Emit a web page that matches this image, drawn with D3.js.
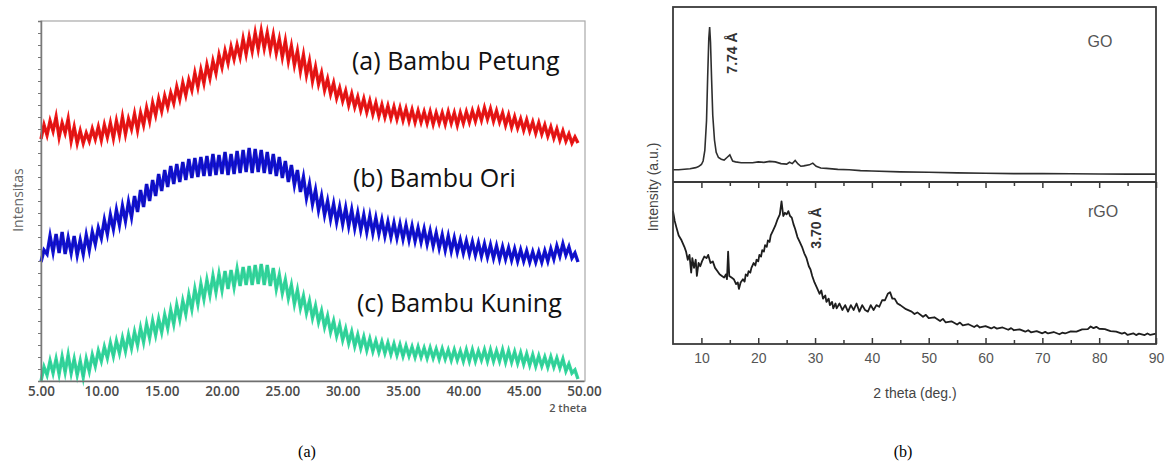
<!DOCTYPE html>
<html>
<head>
<meta charset="utf-8">
<script src="https://cdn.jsdelivr.net/npm/d3@7"></script>
<style>
  body { margin: 0; background: #fff; }
</style>
</head>
<body>
<svg id="container" width="1168" height="463"></svg>
<script>
// ---- left chart: bamboo XRD, sampled every 0.25 deg from 5.00 ----
const thetaStart = 5;
const thetaStep = 0.25;
const bambooTicks = [5, 10, 15, 20, 25, 30, 35, 40, 45, 50];

const petung = [4,18,8,22,12,26,6,20,10,24,2,16,0,12,0,10,2,14,4,16,3,18,6,20,5,22,8,26,9,24,
  14,29,13,30,18,35,22,40,28,44,32,47,36,50,40,56,44,60,48,63,53,70,56,73,60,78,65,82,70,88,
  76,92,80,96,84,98,86,104,89,106,92,110,94,112,95,110,93,108,90,104,86,102,82,97,78,92,72,88,68,82,
  62,76,59,70,53,64,49,60,45,55,42,52,38,49,36,46,33,44,31,42,29,40,27,38,26,37,25,36,24,35,
  23,34,22,33,21,32,21,31,20,31,19,30,20,30,19,31,20,30,18,30,20,31,21,32,22,33,23,35,24,34,
  22,32,21,30,18,28,16,26,15,24,13,23,12,21,10,20,9,18,7,16,5,14,3,12,2,9,0,6,0];

const ori = [0,12,8,26,10,28,9,30,8,24,9,26,7,22,8,27,12,30,18,34,24,42,28,47,33,52,37,56,41,60,
  45,66,50,72,55,78,61,82,66,88,71,92,75,96,78,98,80,100,82,103,84,104,85,105,86,106,86,108,87,107,
  88,110,87,108,88,111,89,112,90,114,89,113,90,112,89,110,88,108,86,105,84,101,80,97,77,92,70,85,64,78,
  58,72,52,66,47,61,43,58,40,55,38,54,36,52,34,49,32,47,30,46,29,44,28,42,26,40,25,39,24,38,
  23,37,22,36,21,34,20,33,18,31,16,29,14,27,12,26,11,24,10,22,9,21,8,20,7,19,6,18,5,17,
  4,16,3,15,3,14,2,13,1,12,1,11,0,10,0,10,0,11,1,13,3,16,6,18,7,15,4,9,0];

const kuning = [0,14,6,20,8,22,7,24,9,26,8,22,6,20,4,22,10,26,15,30,20,34,23,38,25,40,28,43,30,46,
  33,49,36,53,39,57,43,60,46,62,49,66,53,71,57,76,62,80,67,86,72,92,77,97,82,101,86,105,89,107,
  91,110,92,111,94,112,95,114,96,115,96,116,97,117,96,116,95,113,92,106,88,101,83,96,77,91,73,85,68,80,
  63,75,59,70,54,65,49,60,45,56,41,52,38,49,35,46,33,44,31,42,30,40,29,39,28,38,27,37,26,36,
  25,35,25,34,24,34,24,33,23,33,23,32,22,32,22,31,21,31,21,30,20,31,20,31,20,30,21,31,20,31,
  20,30,20,31,19,30,19,29,18,28,17,27,16,26,15,25,15,24,14,24,14,23,13,22,10,17,8,11,2];

const bambooSeries = [
  { name: "(a) Bambu Petung", values: petung, offset: 238, color: "#f01818", edge: "#8a0a0a" },
  { name: "(b) Bambu Ori", values: ori, offset: 119, color: "#1212d8", edge: "#0a0a60" },
  { name: "(c) Bambu Kuning", values: kuning, offset: 0, color: "#35d79e", edge: "#1fae7c" }
];

// ---- right chart: GO / rGO ----
const goTicksMajor = [10, 20, 30, 40, 50, 60, 70, 80, 90];
const goTicksMinor = [15, 25, 35, 45, 55, 65, 75, 85];

const goTheta = [5,6,7,8,9,9.5,10,10.3,10.6,10.9,11.1,11.3,11.45,11.6,11.8,12,12.3,12.6,13,13.5,14,14.5,15,15.5,16,17,18,19,20,21,22,23,24,25,25.5,26,26.5,27,27.5,28,29,29.6,30.2,31,32,34,36,38,40,45,50,55,60,65,70,75,80,85,90];
const goValue = [7,7,7.3,7.6,8.2,8.8,10,12,18,35,60,82,88.5,80,58,38,24,17,14,13,12.5,14,15.5,12,11.5,11,11,11,11.5,11.2,11.8,11.5,10.5,10.2,11.3,10.5,12.3,10.3,9,9.2,9.8,10.8,9,8,7.8,7.2,7,6.5,6.3,5.8,5.6,5.2,5,4.8,4.8,4.7,4.6,4.5,4.5];

const rgoTheta = [5,5.3,5.6,6,6.5,7,7.3,7.6,7.9,8.2,8.4,8.7,9,9.2,9.5,9.8,10.1,10.5,10.9,11.2,11.6,12,12.4,12.8,13.2,13.6,14,14.3,14.5,14.7,14.9,15.3,15.7,16.1,16.4,16.6,16.9,
  17.3,17.6,17.8,18.1,18.3,18.6,18.8,19.2,19.5,19.7,20,20.2,20.5,20.7,21,21.2,21.5,21.7,22,22.2,22.6,23,23.4,23.8,24.1,24.4,24.7,25,25.3,25.6,25.9,26.2,26.5,26.9,27.3,27.7,28.1,28.5,28.9,29.2,29.5,29.9,
  30.3,30.8,31.1,31.4,31.8,32,32.4,32.6,33,33.2,33.6,33.8,34.3,34.8,35.3,35.8,36.3,36.8,37.3,37.8,38.3,38.8,39.3,39.8,40.3,40.8,41.3,41.8,42.3,42.8,43.2,43.6,44,44.5,
  45,46,47,47.5,48,49,49.5,50,51,52,52.5,53,54,55,55.5,56,57,58,58.5,59,60,61,61.5,62,63,64,64.5,65,66,67,67.5,68,69,70,70.5,71,72,73,73.5,74,75,76,77,78,78.5,79,79.5,80,81,82,83,84,84.5,85,86,86.5,87,88,88.5,89,90];
const rgoValue = [82,76,72,67,64,60,57,52,55,44,53,47,52,42,50,48,51,54,53,55,50,51,47,45,43,42,41,43,40,57,42,41,40,37,38,34,38,
  40,38.5,43,42,45,44,47,50,48.5,52,51,55,54,58,57,61,60,64,63,67,70,73,77,80,88,79,81,80,82,79,78,74,71,66,63,60,56,53,48,46,42,38,
  35,31,33,28,30,26,28,24,26,22,25,22,25,21,24,20,24,21,25,20,24,21,20,24,21,24,23,27,27,31,32,28,28,25,
  24,21.5,20,18.5,19.5,16.8,18,16,16.5,14.2,15.5,13.3,14,12,13.2,11.5,12.2,10.5,11.6,10.2,11,9.6,10.5,9.5,10.2,8.8,9.8,8.5,9,7.6,8.5,7.2,8,6.6,7.5,6.5,7.4,6,7,6.5,7.8,7.6,9,9.2,10.8,9.8,10.6,9.4,9.2,8,7.6,6.4,7,5.6,6.6,5.5,6.4,5.5,6.5,5.6,6.4];

const svg = d3.select("#container");
svg.append("rect").attr("width", 1168).attr("height", 463).attr("fill", "#fff");

// ===== left chart =====
const xL = d3.scaleLinear().domain([5, 50]).range([41, 584]);
const yL = d3.scaleLinear().domain([0, 360]).range([381, 21]);

const left = svg.append("g");

left.append("rect")
  .attr("x", 41).attr("y", 21).attr("width", 544).attr("height", 360)
  .attr("fill", "none").attr("stroke", "#a8a8a8").attr("stroke-width", 1.2);

bambooSeries.forEach((s) => {
  const pts = s.values.map((v, i) => ({ t: thetaStart + i * thetaStep, v: v }));
  const line = d3.line().x((d) => xL(d.t)).y((d) => yL(d.v + s.offset));
  // thick band first, thin darker trace on top
  left.append("path")
    .datum(pts)
    .attr("fill", "none")
    .attr("stroke", s.color)
    .attr("stroke-width", 3.4)
    .attr("stroke-linejoin", "miter")
    .attr("stroke-miterlimit", 6)
    .attr("d", line);
  left.append("path")
    .datum(pts)
    .attr("fill", "none")
    .attr("stroke", s.edge)
    .attr("stroke-opacity", 0.45)
    .attr("stroke-width", 0.7)
    .attr("d", line);
});

// left axis with little ticks
left.append("g")
  .attr("transform", "translate(41,0)")
  .call(d3.axisLeft(yL).tickValues(d3.range(0, 361, 12)).tickFormat("").tickSize(3))
  .call((g) => g.select(".domain").attr("stroke", "#7a7a7a").attr("stroke-width", 1.5))
  .call((g) => g.selectAll(".tick line").attr("stroke", "#777"));

const xAxisL = left.append("g")
  .attr("transform", "translate(0,381)")
  .call(d3.axisBottom(xL).tickValues(bambooTicks).tickFormat(d3.format(".2f")).tickSize(0).tickPadding(5));
xAxisL.select(".domain").attr("stroke", "#6f6f6f").attr("stroke-width", 1.6);
xAxisL.selectAll("text")
  .attr("font-family", "Open Sans")
  .attr("font-size", 13.5)
  .attr("font-weight", 600)
  .attr("fill", "#4a4a4a");

left.append("text")
  .attr("x", 568).attr("y", 412)
  .attr("text-anchor", "middle")
  .attr("font-family", "Open Sans").attr("font-size", 11).attr("font-weight", 600)
  .attr("fill", "#555")
  .text("2 theta");

left.append("text")
  .attr("transform", "translate(23,200) rotate(-90)")
  .attr("text-anchor", "middle")
  .attr("font-family", "Open Sans").attr("font-size", 14)
  .attr("fill", "#666")
  .text("Intensitas");

const labelPos = [[352, 70], [353, 187], [357, 312]];
bambooSeries.forEach((s, i) => {
  left.append("text")
    .attr("x", labelPos[i][0]).attr("y", labelPos[i][1])
    .attr("font-family", "Open Sans").attr("font-size", 25)
    .attr("fill", "#111")
    .text(s.name);
});

// ===== right chart =====
const xR = d3.scaleLinear().domain([5, 90]).range([673, 1156]);
const yTop = d3.scaleLinear().domain([0, 100]).range([182, 7]);
const yBot = d3.scaleLinear().domain([0, 100]).range([344, 182]);

const right = svg.append("g");

const goLine = d3.line().x((d) => xR(d[0])).y((d) => yTop(d[1]));
const rgoLine = d3.line().x((d) => xR(d[0])).y((d) => yBot(d[1]));

right.append("path")
  .datum(goTheta.map((t, i) => [t, goValue[i]]))
  .attr("fill", "none").attr("stroke", "#2e2e2e").attr("stroke-width", 1.6)
  .attr("d", goLine);

right.append("path")
  .datum(rgoTheta.map((t, i) => [t, rgoValue[i]]))
  .attr("fill", "none").attr("stroke", "#1e1e1e").attr("stroke-width", 1.8)
  .attr("stroke-linejoin", "round")
  .attr("d", rgoLine);

// frames
right.append("rect")
  .attr("x", 673).attr("y", 7).attr("width", 483).attr("height", 337)
  .attr("fill", "none").attr("stroke", "#3a3a3a").attr("stroke-width", 1.8);
right.append("line")
  .attr("x1", 673).attr("x2", 1156).attr("y1", 182).attr("y2", 182)
  .attr("stroke", "#3a3a3a").attr("stroke-width", 1.8);

// inward ticks on divider and bottom axis
function tickRow(axisFn, y, values, size) {
  right.append("g")
    .attr("transform", `translate(0,${y})`)
    .call(axisFn(xR).tickValues(values).tickFormat("").tickSize(size))
    .call((g) => g.select(".domain").remove())
    .call((g) => g.selectAll(".tick line").attr("stroke", "#3a3a3a").attr("stroke-width", 1.5));
}
tickRow(d3.axisBottom, 182, goTicksMajor, 6);
tickRow(d3.axisBottom, 182, goTicksMinor, 4);
tickRow(d3.axisTop, 344, goTicksMajor, 6);
tickRow(d3.axisTop, 344, goTicksMinor, 4);

const xAxisR = right.append("g")
  .attr("transform", "translate(0,344)")
  .call(d3.axisBottom(xR).tickValues(goTicksMajor).tickSize(0).tickPadding(9));
xAxisR.select(".domain").remove();
xAxisR.selectAll("text")
  .attr("font-family", "Liberation Sans").attr("font-size", 14).attr("fill", "#555");

right.append("text")
  .attr("x", 915).attr("y", 398)
  .attr("text-anchor", "middle")
  .attr("font-family", "Liberation Sans").attr("font-size", 14).attr("fill", "#444")
  .text("2 theta (deg.)");

right.append("text")
  .attr("transform", "translate(658,187) rotate(-90)")
  .attr("text-anchor", "middle")
  .attr("font-family", "Liberation Sans").attr("font-size", 14).attr("fill", "#444")
  .text("Intensity (a.u.)");

right.append("text")
  .attr("x", 1100).attr("y", 47).attr("text-anchor", "middle")
  .attr("font-family", "Liberation Sans").attr("font-size", 16).attr("fill", "#555")
  .text("GO");
right.append("text")
  .attr("x", 1103).attr("y", 217).attr("text-anchor", "middle")
  .attr("font-family", "Liberation Sans").attr("font-size", 16).attr("fill", "#555")
  .text("rGO");

right.append("text")
  .attr("transform", "translate(737,53) rotate(-90)")
  .attr("text-anchor", "middle")
  .attr("font-family", "Liberation Sans").attr("font-size", 14).attr("font-weight", "bold")
  .attr("fill", "#333")
  .text("7.74 Å");
right.append("text")
  .attr("transform", "translate(821,228) rotate(-90)")
  .attr("text-anchor", "middle")
  .attr("font-family", "Liberation Sans").attr("font-size", 14).attr("font-weight", "bold")
  .attr("fill", "#333")
  .text("3.70 Å");

// captions
svg.append("text")
  .attr("x", 307).attr("y", 457).attr("text-anchor", "middle")
  .attr("font-family", "Liberation Serif").attr("font-size", 16).attr("fill", "#000")
  .text("(a)");
svg.append("text")
  .attr("x", 903).attr("y", 457).attr("text-anchor", "middle")
  .attr("font-family", "Liberation Serif").attr("font-size", 16).attr("fill", "#000")
  .text("(b)");
</script>
</body>
</html>
